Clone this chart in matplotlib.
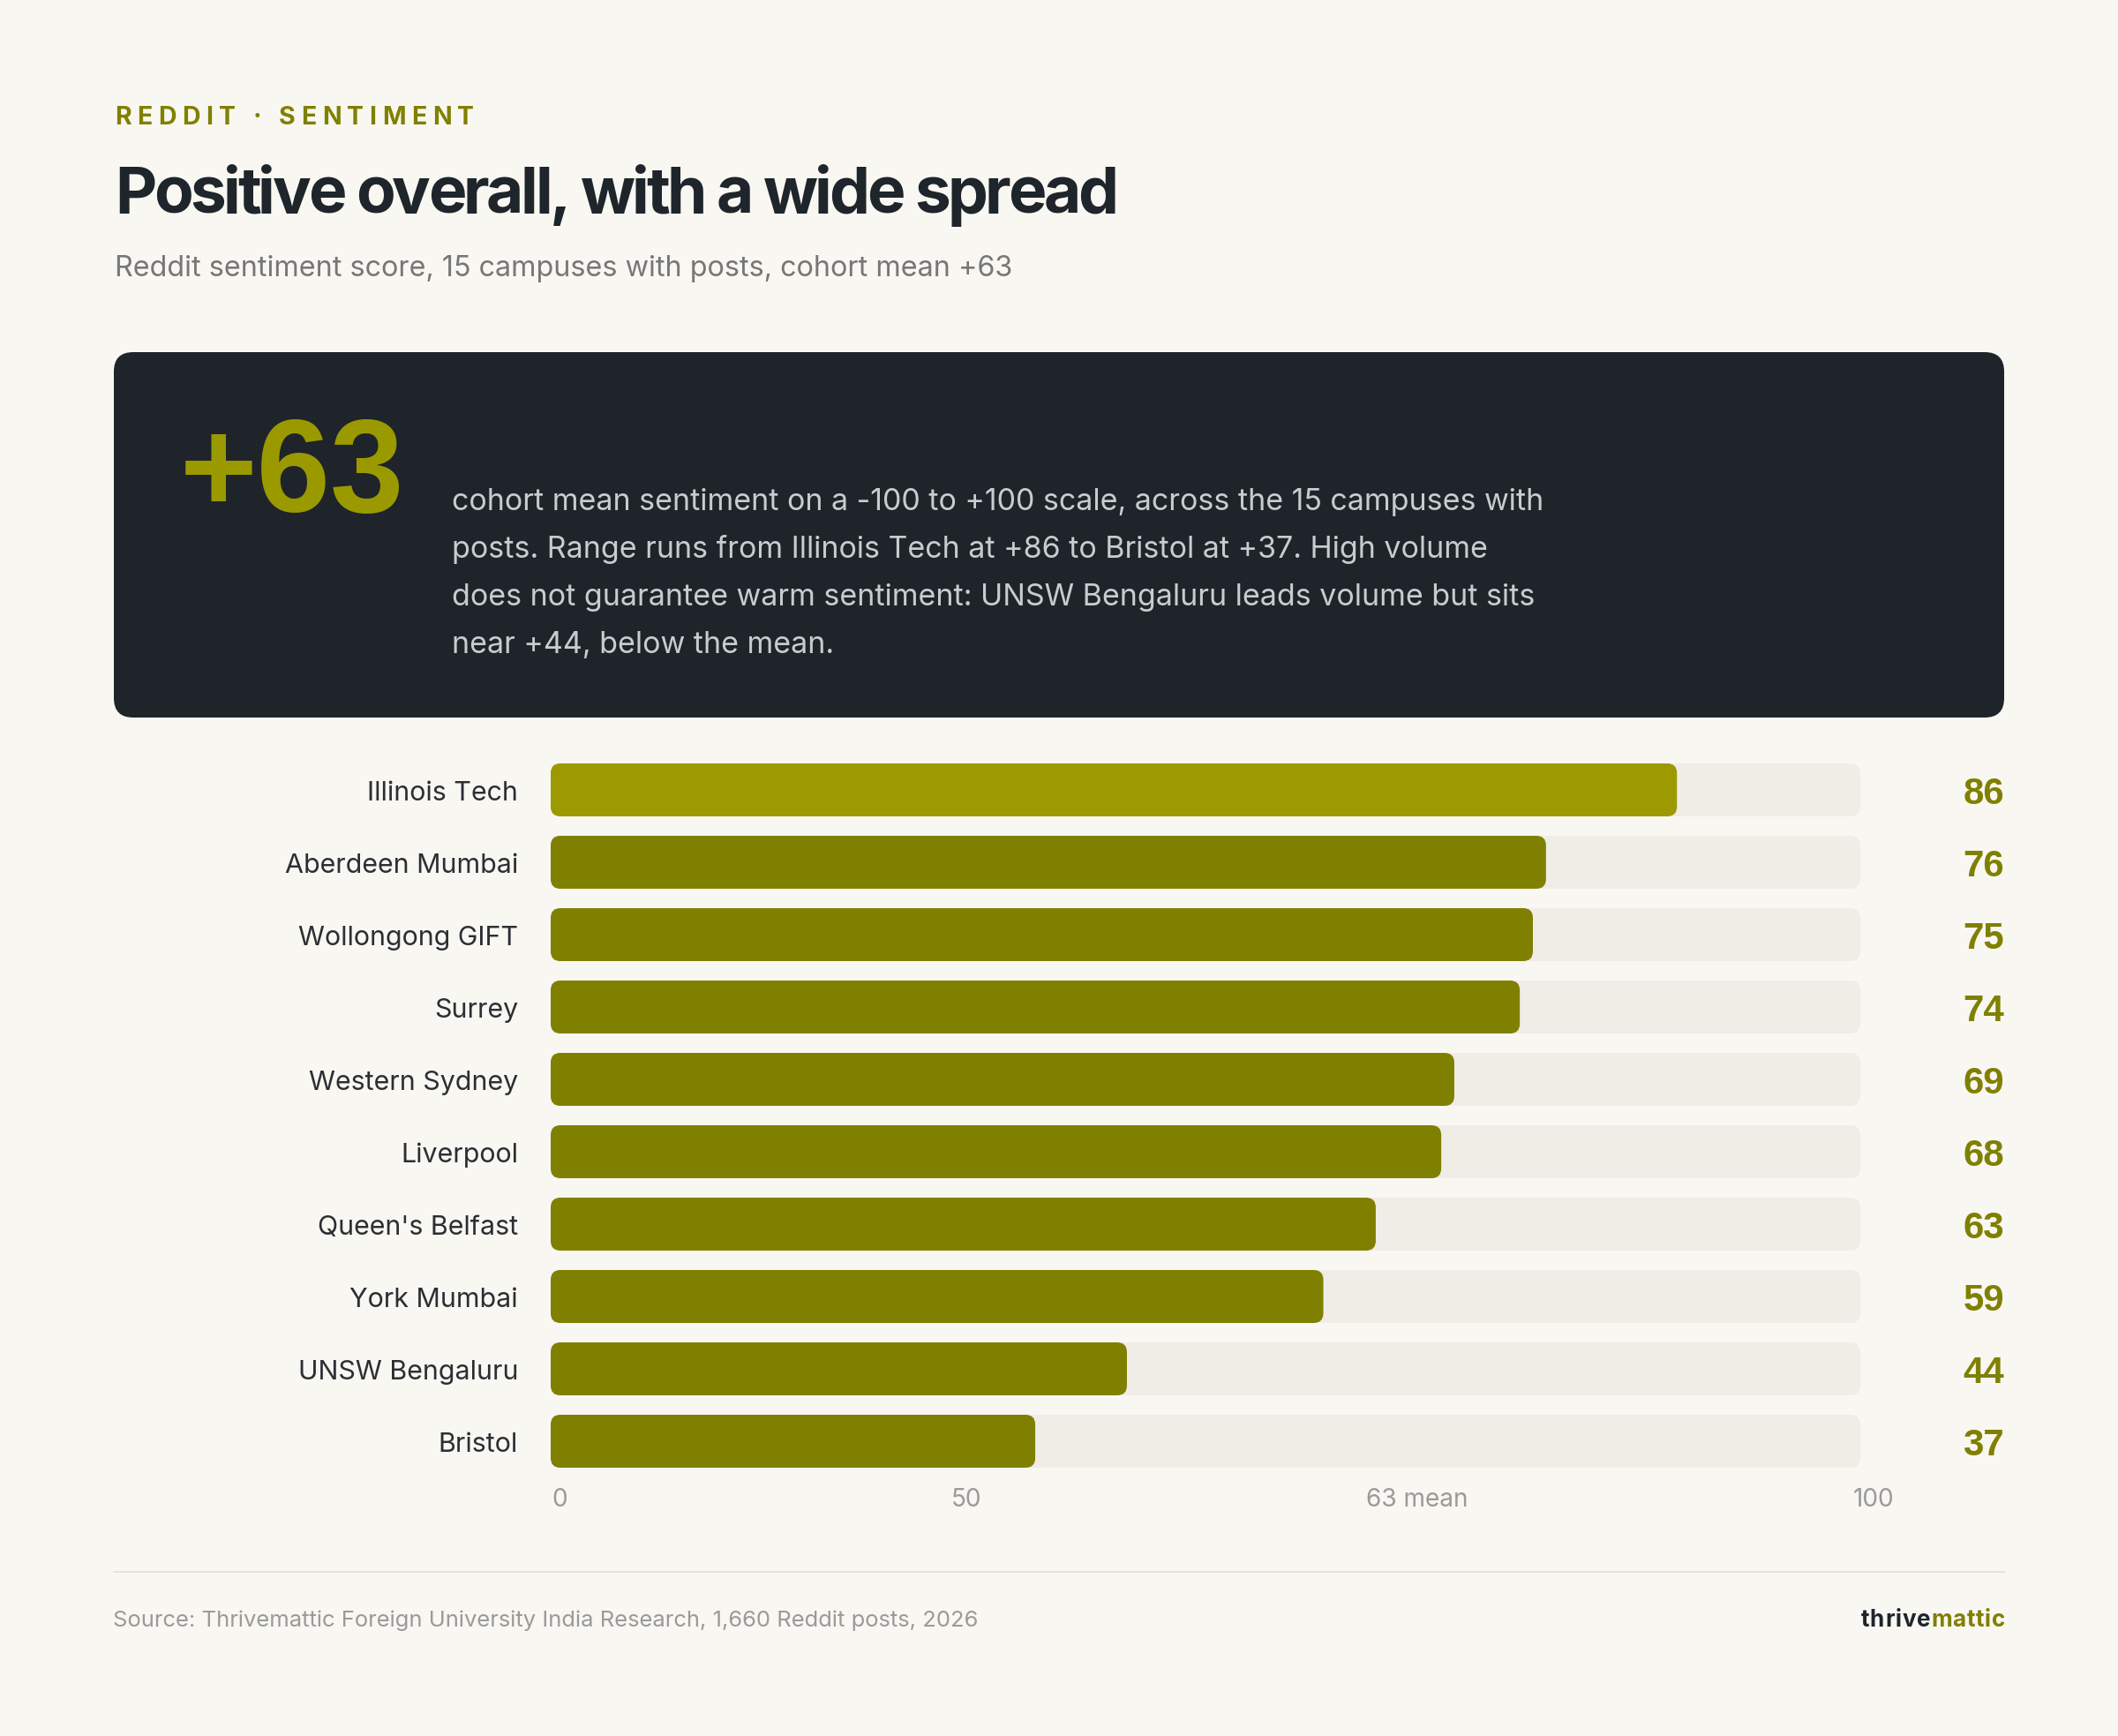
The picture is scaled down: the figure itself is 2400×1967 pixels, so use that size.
import matplotlib
matplotlib.use("Agg")
import matplotlib.pyplot as plt
from matplotlib.patches import FancyBboxPatch

# ---------------- data ----------------
categories = ["Illinois Tech", "Aberdeen Mumbai", "Wollongong GIFT", "Surrey",
              "Western Sydney", "Liverpool", "Queen's Belfast", "York Mumbai",
              "UNSW Bengaluru", "Bristol"]
scores = [86, 76, 75, 74, 69, 68, 63, 59, 44, 37]
axis_max = 100
cohort_mean = 63
tick_labels = ["0", "50", "63 mean", "100"]

kicker = "REDDIT · SENTIMENT"
title = "Positive overall, with a wide spread"
subtitle = "Reddit sentiment score, 15 campuses with posts, cohort mean +63"
big_number = "+63"
paragraph = [
    "cohort mean sentiment on a -100 to +100 scale, across the 15 campuses with",
    "posts. Range runs from Illinois Tech at +86 to Bristol at +37. High volume",
    "does not guarantee warm sentiment: UNSW Bengaluru leads volume but sits",
    "near +44, below the mean.",
]
source = "Source: Thrivemattic Foreign University India Research, 1,660 Reddit posts, 2026"
brand = ("thrive", "mattic")

# ---------------- style ----------------
W, H = 2400, 1967
DPI = 100
PT = 72 / DPI

BG = "#F9F7F2"
DARK = "#1E2429"
OLIVE = "#808000"
OLIVE_HI = "#9C9A00"
TRACK = "#F0EDE7"
INK = "#1E252B"
LABEL = "#2B2F33"
GREY = "#777777"
LIGHT_GREY = "#9A9A9A"
PARA = "#C9CCCE"

SANS = ["Inter", "DejaVu Sans"]
NUM = ["Liberation Sans", "DejaVu Sans"]

fig = plt.figure(figsize=(W / DPI, H / DPI), dpi=DPI, facecolor=BG)
bg = fig.add_axes([0, 0, 1, 1])
bg.set_xlim(0, W)
bg.set_ylim(H, 0)
bg.axis("off")
bg.set_facecolor(BG)
renderer = fig.canvas.get_renderer()


def text_w(s, **kw):
    t = bg.text(0, 0, s, **kw)
    w = t.get_window_extent(renderer).width
    t.remove()
    return w


def spaced(x, y, s, target_width=None, track=0.0, ha="left", colors=None, **kw):
    base = text_w("HH", **kw)
    advs = [text_w("H" + c + "H", **kw) - base for c in s]
    if target_width is not None:
        track = (target_width - sum(advs)) / (len(s) - 1)
    total = sum(advs) + track * (len(s) - 1)
    if ha == "right":
        x -= total
    cur = x
    for i, (c, a) in enumerate(zip(s, advs)):
        kk = dict(kw)
        kk["color"] = colors[i] if colors else kw.get("color")
        bg.text(cur, y, c, ha="left", va="baseline", **kk)
        cur += a + track
    return total


# ---------------- header ----------------
spaced(130, 141, kicker, target_width=407, fontsize=28.5 * PT,
       fontweight="bold", color=OLIVE, family=SANS)
spaced(130, 242, title, target_width=1137, fontsize=73 * PT,
       fontweight="bold", color=INK, family=SANS)
bg.text(130, 313, subtitle, fontsize=32.3 * PT, color=GREY, family=SANS,
        ha="left", va="baseline")

# ---------------- dark callout ----------------
box = FancyBboxPatch((129, 399), 2271 - 129, 813 - 399,
                     boxstyle="round,pad=0,rounding_size=22",
                     facecolor=DARK, edgecolor="none")
bg.add_patch(box)
bg.text(204, 580, big_number, fontsize=150 * PT, fontweight="bold",
        color="#9A9900", family=NUM, ha="left", va="baseline")
for i, line in enumerate(paragraph):
    bg.text(512, 578 + i * 54, line, fontsize=34 * PT, color=PARA,
            family=SANS, ha="left", va="baseline")

# ---------------- bars ----------------
L, R = 624, 2108
row0, row_step = 895, 82
n = len(categories)
top = row0 - row_step / 2
bottom = row0 + row_step * (n - 0.5)
ax = fig.add_axes([L / W, 1 - bottom / H, (R - L) / W, (bottom - top) / H])
ax.set_xlim(0, axis_max)
ax.set_ylim(n - 0.5, -0.5)
ax.axis("off")
ax.patch.set_alpha(0)

x_per_px = axis_max / (R - L)
y_per_px = n / (bottom - top)
aspect = y_per_px / x_per_px
bar_h = 60 * y_per_px
r_track = 12 * x_per_px
r_bar = 11 * x_per_px

for i, (cat, v) in enumerate(zip(categories, scores)):
    ax.add_patch(FancyBboxPatch((0, i - bar_h / 2), axis_max, bar_h,
                                boxstyle=f"round,pad=0,rounding_size={r_track}",
                                mutation_aspect=aspect, facecolor=TRACK,
                                edgecolor="none"))
    col = OLIVE_HI if v == max(scores) else OLIVE
    ax.add_patch(FancyBboxPatch((0, i - bar_h / 2), v, bar_h,
                                boxstyle=f"round,pad=0,rounding_size={r_bar}",
                                mutation_aspect=aspect, facecolor=col,
                                edgecolor="none"))
    yc = row0 + i * row_step
    bg.text(587, yc + 1, cat, fontsize=30.4 * PT, color=LABEL, family=SANS,
            ha="right", va="center_baseline")
    bg.text(2271, yc, f"{v}", fontsize=42 * PT, fontweight="bold",
            color=OLIVE, family=NUM, ha="right", va="center_baseline")

# tick labels: distributed (space-between) across the axis row
tick_kw = dict(fontsize=28 * PT, color=LIGHT_GREY, family=SANS)
widths = [text_w(t, **tick_kw) for t in tick_labels]
span_l, span_r = 625, 2146
gap = (span_r - span_l - sum(widths)) / (len(tick_labels) - 1)
cx = span_l
for t, w in zip(tick_labels, widths):
    bg.text(cx, 1707, t, ha="left", va="baseline", **tick_kw)
    cx += w + gap

# ---------------- footer ----------------
bg.plot([128, 2272], [1781, 1781], color="#E6E3DD", lw=2 * PT,
        solid_capstyle="butt")
bg.text(128, 1843, source, fontsize=25.6 * PT, color=LIGHT_GREY, family=SANS,
        ha="left", va="baseline")
brand_txt = brand[0] + brand[1]
brand_cols = [INK] * len(brand[0]) + [OLIVE] * len(brand[1])
spaced(2272, 1843, brand_txt, track=0.8, ha="right", colors=brand_cols,
       fontsize=26 * PT, fontweight="bold", family=SANS, color=INK)

fig.savefig("out.png", dpi=DPI, facecolor=BG)
